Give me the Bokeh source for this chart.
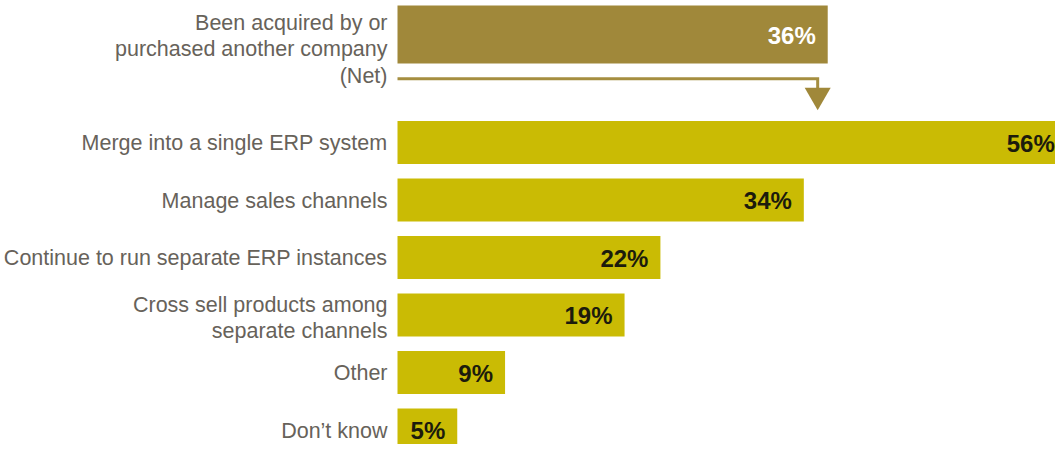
from bokeh.plotting import figure
from bokeh.models import Range1d, ColumnDataSource
from bokeh.embed import file_html
from bokeh.resources import INLINE
from bokeh.core.properties import value

# ---- data ----
net_label = "Been acquired by or\npurchased another company\n(Net)"
net_value = 36

categories = [
    "Merge into a single ERP system",
    "Manage sales channels",
    "Continue to run separate ERP instances",
    "Cross sell products among\nseparate channels",
    "Other",
    "Don\u2019t know",
]
values = [56, 34, 22, 19, 9, 5]

# ---- layout (row units) ----
GAP = 1.878          # distance from net row to first sub-row
ROW_H = 0.748
NET_H = 1.009
ypos = [GAP + i for i in range(len(categories))]
label_dy = [3 if "\n" in c else 1 for c in categories]

FONT = value("Liberation Sans")
LABEL_COLOR = "#67625A"
BAR_COLOR = "#CABB04"
NET_COLOR = "#A0883A"

p = figure(width=1055, height=444, output_backend="svg", toolbar_location=None,
           x_range=Range1d(-33.22, 55.06), y_range=Range1d(7.131, -0.591),
           x_axis_type=None, y_axis_type=None, min_border=0,
           outline_line_color=None)
p.grid.visible = False

src = ColumnDataSource(dict(
    y=ypos, v=values, cat=categories, dy=label_dy,
    pct=[f"{v}%" for v in values],
))

# net bar
p.hbar(y=[0], left=0, right=[net_value], height=NET_H, color=NET_COLOR, line_color=None)
p.text(x=[net_value], y=[0], text=[f"{net_value}%"], text_align="right",
       text_baseline="middle", x_offset=-12, y_offset=1, text_font=FONT,
       text_font_style="bold", text_font_size="24px", text_color="white")
p.text(x=[0], y=[0], text=[net_label], text_align="right", text_baseline="middle",
       x_offset=-10, y_offset=15, text_font=FONT, text_font_size="21.5px",
       text_color=LABEL_COLOR, text_line_height=1.1)

# arrow from net bar to breakdown
ax = net_value - 0.84
p.line(x=[0, ax, ax], y=[0.770, 0.770, 1.0], line_width=3, color="#A58E40",
       line_join="miter")
p.scatter(x=[ax], y=[1.057], marker="inverted_triangle", size=26,
          color=NET_COLOR, line_color=None)

# breakdown bars
p.hbar(y="y", left=0, right="v", height=ROW_H, source=src, color=BAR_COLOR,
       line_color=None)
p.text(x="v", y="y", text="pct", source=src, text_align="right",
       text_baseline="middle", x_offset=-12, y_offset=1, text_font=FONT,
       text_font_style="bold", text_font_size="24px", text_color="#1C1B0C")
p.text(x=0, y="y", text="cat", source=src, text_align="right",
       text_baseline="middle", x_offset=-10, y_offset="dy", text_font=FONT,
       text_font_size="21.5px", text_color=LABEL_COLOR, text_line_height=1.1)

open("out.html", "w").write(file_html(p, INLINE))
